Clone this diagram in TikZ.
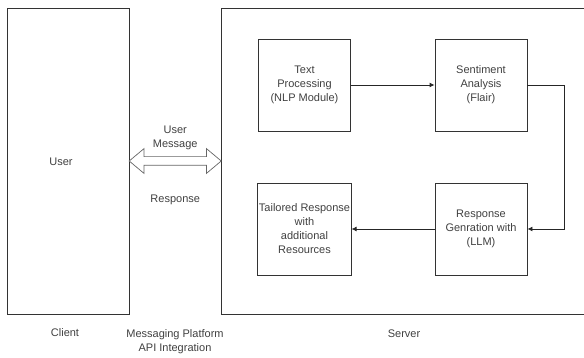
\documentclass[tikz,border=0pt]{standalone}
\usepackage{fontspec}
\setmainfont{Liberation Sans}
\usetikzlibrary{arrows.meta,shapes.arrows,calc,positioning}

\tikzset{
  box/.style={draw=black!80, line width=0.9pt, text=black!75},
  proc/.style={box, minimum width=92pt, minimum height=92pt, align=center, inner sep=1pt},
  lbl/.style={text=black!75, align=center},
  flow/.style={draw=black!85, line width=0.9pt, -{Latex[length=5pt,width=5pt]}},
}

\begin{document}
\begin{tikzpicture}[x=1pt, y=-1pt, font=\fontsize{11}{14}\selectfont]
	\clip (0,0) rectangle (584,358);
	% client and server areas
	\node[box, minimum width=122pt, minimum height=306pt] (client) at (68,161) {};
	\node[lbl] (user) at (61,162) {User};
	\node[box, minimum width=380pt, minimum height=306pt, anchor=west] (server) at (221,161) {};
	% messaging link
	\node[double arrow, draw=black!60, fill=white, line width=0.7pt, inner sep=4pt,
	      double arrow head extend=8pt, double arrow tip angle=80,
	      minimum height=92pt] (link) at ($(client.east)!0.5!(server.west)$) {};
	\node[lbl, above=3pt of link] (msg) {User\\Message};
	\node[lbl, below=26pt of link] (resp) {Response};
	% processing steps
	\node[proc] (text) at (304.5,85) {Text\\Processing\\(NLP Module)};
	\node[proc] (senti) at (481,85) {Sentiment\\Analysis\\(Flair)};
	\node[proc] (gen) at (481,229) {Response\\Genration with\\(LLM)};
	\node[proc] (tailor) at (304.5,229) {Tailored Response\\with\\additional\\Resources};
	\draw[flow] (text) -- (senti);
	\draw[flow] (senti.east) -- ++(37,0) |- (gen.east);
	\draw[flow] (gen) -- (tailor);
	% captions
	\node[lbl] (cap1) at (65,333) {Client};
	\node[lbl, text depth=0pt] (cap2) at (175,341) {Messaging Platform\\API Integration};
	\node[lbl] (cap3) at (404,334) {Server};
\end{tikzpicture}
\end{document}
